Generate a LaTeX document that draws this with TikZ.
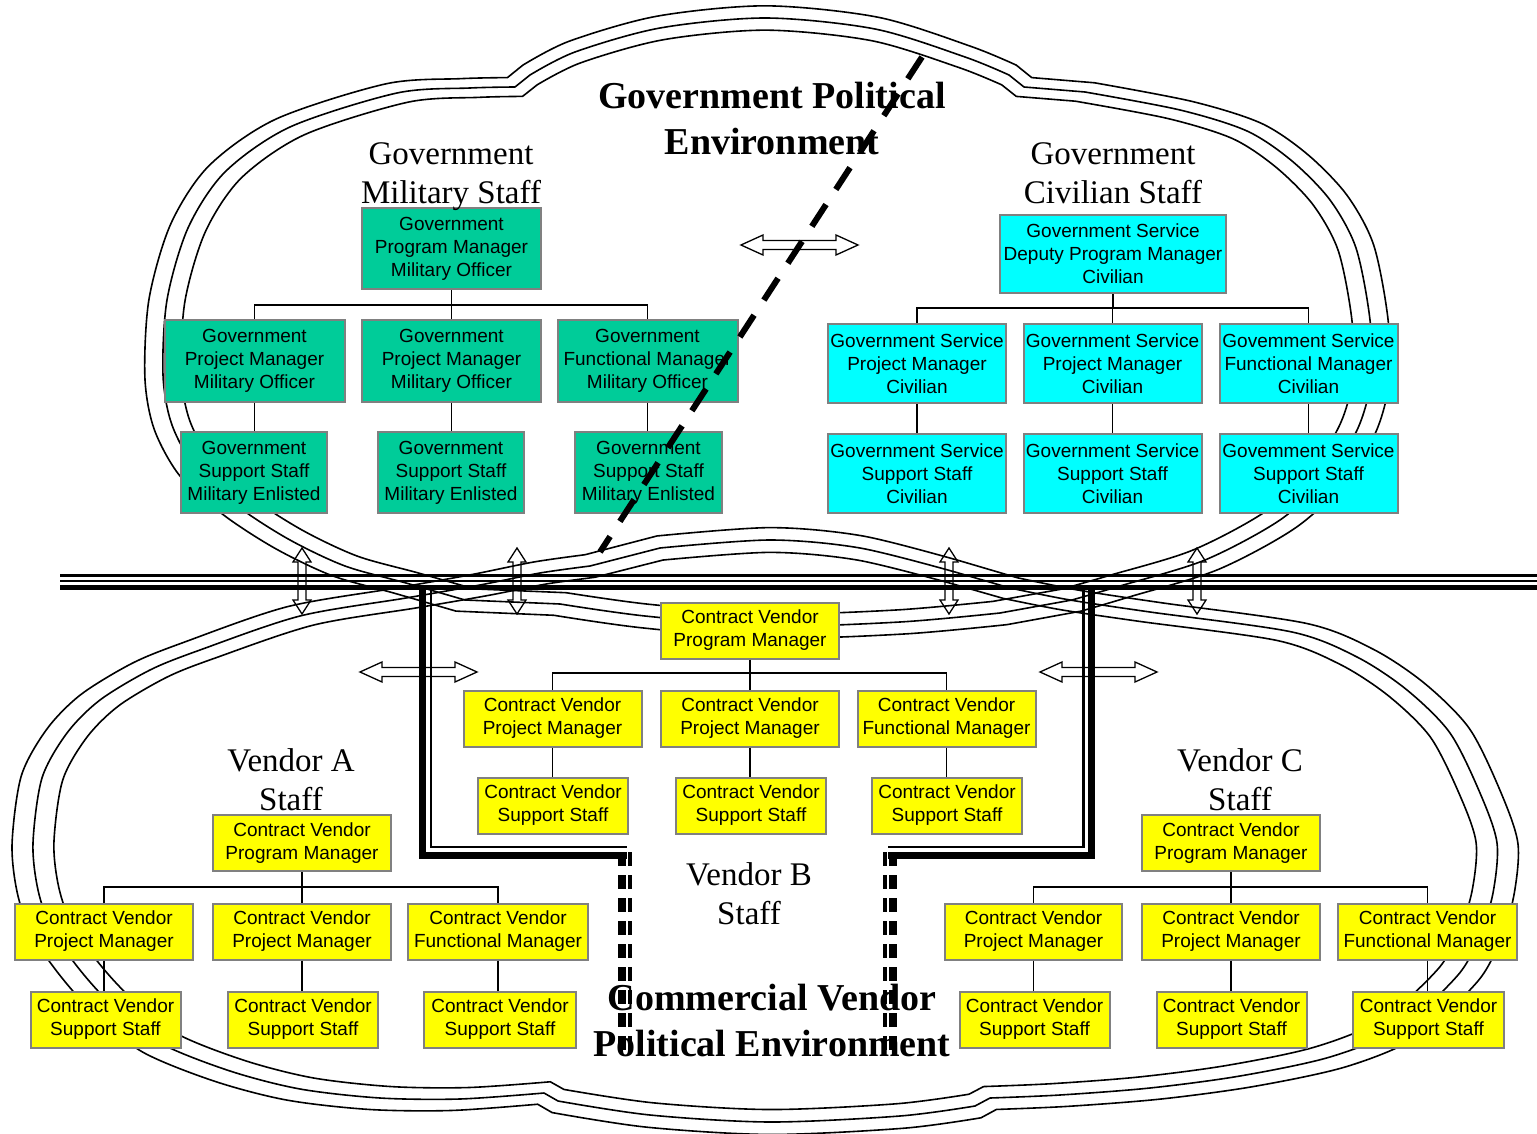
\documentclass[tikz,border=0pt]{standalone}
\usepackage{fontspec}
\setmainfont{Liberation Serif}
\newfontfamily\boxfont{Liberation Sans}
\usetikzlibrary{calc}

\definecolor{milgreen}{RGB}{0,204,153}
\definecolor{civcyan}{RGB}{0,255,255}
\definecolor{vendyellow}{RGB}{255,255,0}
\definecolor{boxedge}{RGB}{128,128,128}

% middle outline of the government cloud (lobes joined at cusps)
\def\topcloud{%
 plot[smooth] coordinates {(465,600) (406,583) (345,566) (290,540) (240,508) (197,470) (172,425) (163,375) (167,300) (188,228) (225,172) (290,127) (397,93) (470,88) (515,87)}
 -- plot[smooth] coordinates {(530,75) (575,52) (660,28) (766,18) (875,29) (965,57) (1009,75)}
 -- (1024,87)
 -- plot[smooth] coordinates {(1085,92) (1180,110) (1247,131) (1292,161) (1330,200) (1356,248) (1370,320) (1371,380) (1358,428) (1328,476) (1280,520) (1205,560) (1120,586) (1072,600)}
 -- plot[smooth] coordinates {(1000,613) (900,622) (770,626) (645,616) (560,604)}
 -- cycle}

% middle outline of the vendor cloud
\def\botcloud{%
 plot[smooth] coordinates {(544,1093) (460,1099) (380,1098) (300,1089) (230,1071) (160,1043) (112,1005) (80,970) (52,930) (38,890) (33,843) (42,778) (67,733) (100,700) (150,670) (200,650) (300,616) (406,598) (480,585) (540,573) (590,566)}
 -- plot[smooth] coordinates {(660,548) (770,540) (860,548) (955,572)}
 -- plot[smooth] coordinates {(1010,588) (1070,600) (1150,612) (1292,632) (1357,657) (1407,690) (1450,733) (1480,793) (1497,843) (1493,893) (1480,935) (1458,975) (1400,1028) (1330,1057) (1240,1076) (1150,1088) (1060,1095) (990,1098)}
 -- plot[smooth] coordinates {(975,1106) (900,1116) (770,1122) (650,1115) (558,1101)}
 -- cycle}

% parent box, three children, bus height, three support boxes
\newcommand\orgtree[8]{%
  \draw[conn] (#1.south) -- (#1.south |- 0,#5);
  \draw[conn] (#2.north) -- (#2.north |- 0,#5) -- (#4.north |- 0,#5) -- (#4.north);
  \draw[conn] (#3.north) -- (#3.north |- 0,#5);
  \draw[conn] (#2.south) -- (#2.south |- #6.north);
  \draw[conn] (#3.south) -- (#3.south |- #7.north);
  \draw[conn] (#4.south) -- (#4.south |- #8.north);
}

\tikzset{
  box/.style={draw=boxedge, line width=2pt, inner sep=0pt, align=center,
    font=\boxfont\fontsize{19}{23}\selectfont, text=black},
  mil/.style={box, fill=milgreen, minimum width=180pt, minimum height=82pt},
  milsup/.style={box, fill=milgreen, minimum width=146pt, minimum height=81pt},
  civ/.style={box, fill=civcyan, minimum width=178pt, minimum height=79pt},
  ven/.style={box, fill=vendyellow, minimum width=178pt, minimum height=56pt},
  vensup/.style={box, fill=vendyellow, minimum width=150pt, minimum height=56pt},
  conn/.style={draw=black, line width=1.3pt},
  staff/.style={align=center, inner sep=0pt, font=\fontsize{33}{39}\selectfont},
  envtitle/.style={align=center, inner sep=0pt, font=\fontsize{38}{46}\selectfont\bfseries},
  cloudline/.style={draw=black, line width=1.6pt, line join=round},
  pics/dblarrow/.style n args={4}{code={
    \draw[line width=1.3pt, line join=miter]
      (-#1,0) -- (-#1+#2,#3) -- (-#1+#2,#4) -- (#1-#2,#4) -- (#1-#2,#3) -- (#1,0)
      -- (#1-#2,-#3) -- (#1-#2,-#4) -- (-#1+#2,-#4) -- (-#1+#2,-#3) -- cycle;
  }}
}

\begin{document}
\begin{tikzpicture}[x=1pt,y=-1pt]
\fill[white] (0,0) rectangle (1537,1134);
\useasboundingbox (0,0) rectangle (1537,1134);

% the two political environments, each outlined three times
\foreach \sx/\sy in {0.970/0.960, 1/1, 1.030/1.040} {
  \begin{scope}[shift={(767,322)}, xscale=\sx, yscale=\sy, shift={(-767,-322)}]
    \draw[cloudline] \topcloud;
  \end{scope}
}
\foreach \sx/\sy in {0.9714/0.9573, 1/1, 1.0286/1.0427} {
  \begin{scope}[shift={(765,830)}, xscale=\sx, yscale=\sy, shift={(-765,-830)}]
    \draw[cloudline] \botcloud;
  \end{scope}
}

% two-way interaction arrows
\pic at (799.5,245) {dblarrow={58.5}{22}{10}{4.5}};
\pic at (418.5,672) {dblarrow={58.5}{22}{10}{4.5}};
\pic at (1098.5,672) {dblarrow={58.5}{22}{10}{4.5}};
\pic[rotate=90] at (302,581) {dblarrow={33}{14}{9}{4}};
\pic[rotate=90] at (517,581) {dblarrow={33}{14}{9}{4}};
\pic[rotate=90] at (949,581) {dblarrow={33}{14}{9}{4}};
\pic[rotate=90] at (1197,581) {dblarrow={33}{14}{9}{4}};

% boundary between government and vendor sides
\draw[line width=3pt] (60,575) -- (1537,575);
\draw[line width=2pt] (60,580.5) -- (1537,580.5);
\draw[line width=5.5pt] (60,587.5) -- (1537,587.5);

% Vendor B enclosure
\draw[line width=7pt] (422.5,587) -- (422.5,855) -- (627,855);
\draw[line width=2.5pt] (431,587) -- (431,847) -- (627,847);
\draw[line width=8pt, dash pattern=on 14pt off 9pt] (621.5,852) -- (621.5,1057);
\draw[line width=4pt, dash pattern=on 14pt off 9pt] (630,852) -- (630,1057);
\draw[line width=7pt] (1091.5,587) -- (1091.5,855) -- (888,855);
\draw[line width=2.5pt] (1083.5,587) -- (1083.5,847) -- (888,847);
\draw[line width=8pt, dash pattern=on 14pt off 9pt] (893,852) -- (893,1057);
\draw[line width=4pt, dash pattern=on 14pt off 9pt] (884.5,852) -- (884.5,1057);

% government military staff
\node[mil, minimum width=179pt, minimum height=81pt] (gpm) at (451.5,248.5) {Government\\Program Manager\\Military Officer};
\node[mil] (gp1) at (254.5,360.5) {Government\\Project Manager\\Military Officer};
\node[mil, minimum width=179pt] (gp2) at (451.5,360.5) {Government\\Project Manager\\Military Officer};
\node[mil] (gf3) at (647.5,360.5) {Government\\Functional Manager\\Military Officer};
\node[milsup] (gs1) at (254,472.5) {Government\\Support Staff\\Military Enlisted};
\node[milsup] (gs2) at (451,472.5) {Government\\Support Staff\\Military Enlisted};
\node[milsup, minimum width=147pt] (gs3) at (648.5,472.5) {Government\\Support Staff\\Military Enlisted};
\orgtree{gpm}{gp1}{gp2}{gf3}{305}{gs1}{gs2}{gs3}

% government civilian staff
\node[civ, minimum width=226pt, minimum height=78pt] (cdp) at (1113,254) {Government Service\\Deputy Program Manager\\Civilian};
\node[civ] (cp1) at (917,363.5) {Government Service\\Project Manager\\Civilian};
\node[civ] (cp2) at (1112.5,363.5) {Government Service\\Project Manager\\Civilian};
\node[civ] (cf3) at (1308.5,363.5) {Govemment Service\\Functional Manager\\Civilian};
\node[civ] (cs1) at (917,473.5) {Government Service\\Support Staff\\Civilian};
\node[civ] (cs2) at (1112.5,473.5) {Government Service\\Support Staff\\Civilian};
\node[civ] (cs3) at (1308.5,473.5) {Govemment Service\\Support Staff\\Civilian};
\orgtree{cdp}{cp1}{cp2}{cf3}{308}{cs1}{cs2}{cs3}

% vendor B staff
\node[ven] (bpm) at (750,630.5) {Contract Vendor\\Program Manager};
\node[ven] (bp1) at (552.5,718.5) {Contract Vendor\\Project Manager};
\node[ven] (bp2) at (750,718.5) {Contract Vendor\\Project Manager};
\node[ven] (bf3) at (946.5,718.5) {Contract Vendor\\Functional Manager};
\node[vensup] (bs1) at (553,805.5) {Contract Vendor\\Support Staff};
\node[vensup] (bs2) at (751,805.5) {Contract Vendor\\Support Staff};
\node[vensup] (bs3) at (947,805.5) {Contract Vendor\\Support Staff};
\orgtree{bpm}{bp1}{bp2}{bf3}{673}{bs1}{bs2}{bs3}

% vendor A staff
\node[ven] (apm) at (302,843) {Contract Vendor\\Program Manager};
\node[ven] (ap1) at (104,931.5) {Contract Vendor\\Project Manager};
\node[ven] (ap2) at (302,931.5) {Contract Vendor\\Project Manager};
\node[ven, minimum width=180pt] (af3) at (498,931.5) {Contract Vendor\\Functional Manager};
\node[vensup] (as1) at (105.5,1019.5) {Contract Vendor\\Support Staff};
\node[vensup] (as2) at (303,1019.5) {Contract Vendor\\Support Staff};
\node[vensup, minimum width=152pt] (as3) at (500,1019.5) {Contract Vendor\\Support Staff};
\orgtree{apm}{ap1}{ap2}{af3}{887}{as1}{as2}{as3}

% vendor C staff
\node[ven] (vcpm) at (1231,843) {Contract Vendor\\Program Manager};
\node[ven, minimum width=177pt] (vcp1) at (1033.5,931.5) {Contract Vendor\\Project Manager};
\node[ven] (vcp2) at (1231,931.5) {Contract Vendor\\Project Manager};
\node[ven, minimum width=179pt] (vcf3) at (1427.5,931.5) {Contract Vendor\\Functional Manager};
\node[vensup] (vcs1) at (1034.5,1019.5) {Contract Vendor\\Support Staff};
\node[vensup] (vcs2) at (1231.5,1019.5) {Contract Vendor\\Support Staff};
\node[vensup, minimum width=151pt] (vcs3) at (1428.5,1019.5) {Contract Vendor\\Support Staff};
\orgtree{vcpm}{vcp1}{vcp2}{vcf3}{887}{vcs1}{vcs2}{vcs3}

% group headings
\node[staff] (milhead) at (451,177) {Government\\Military Staff};
\node[staff] (civhead) at (1113,173.5) {Government\\Civilian Staff};
\node[staff] (vahead) at (291,779.5) {Vendor A\\Staff};
\node[staff] (vbhead) at (749,894) {Vendor B\\Staff};
\node[staff] (vchead) at (1240,779.5) {Vendor C\\Staff};
\node[envtitle] (govenv) at (772,119) {Government Political\\Environment};
\node[envtitle] (venenv) at (772,1020) {Commercial Vendor\\Political Environment};

% divide through the government environment
\coordinate (cutTop) at (922,57);
\coordinate (cutBot) at (600,552);
\draw[line width=6pt, dash pattern=on 26pt off 18pt] (cutTop) -- (cutBot);
\end{tikzpicture}
\end{document}
